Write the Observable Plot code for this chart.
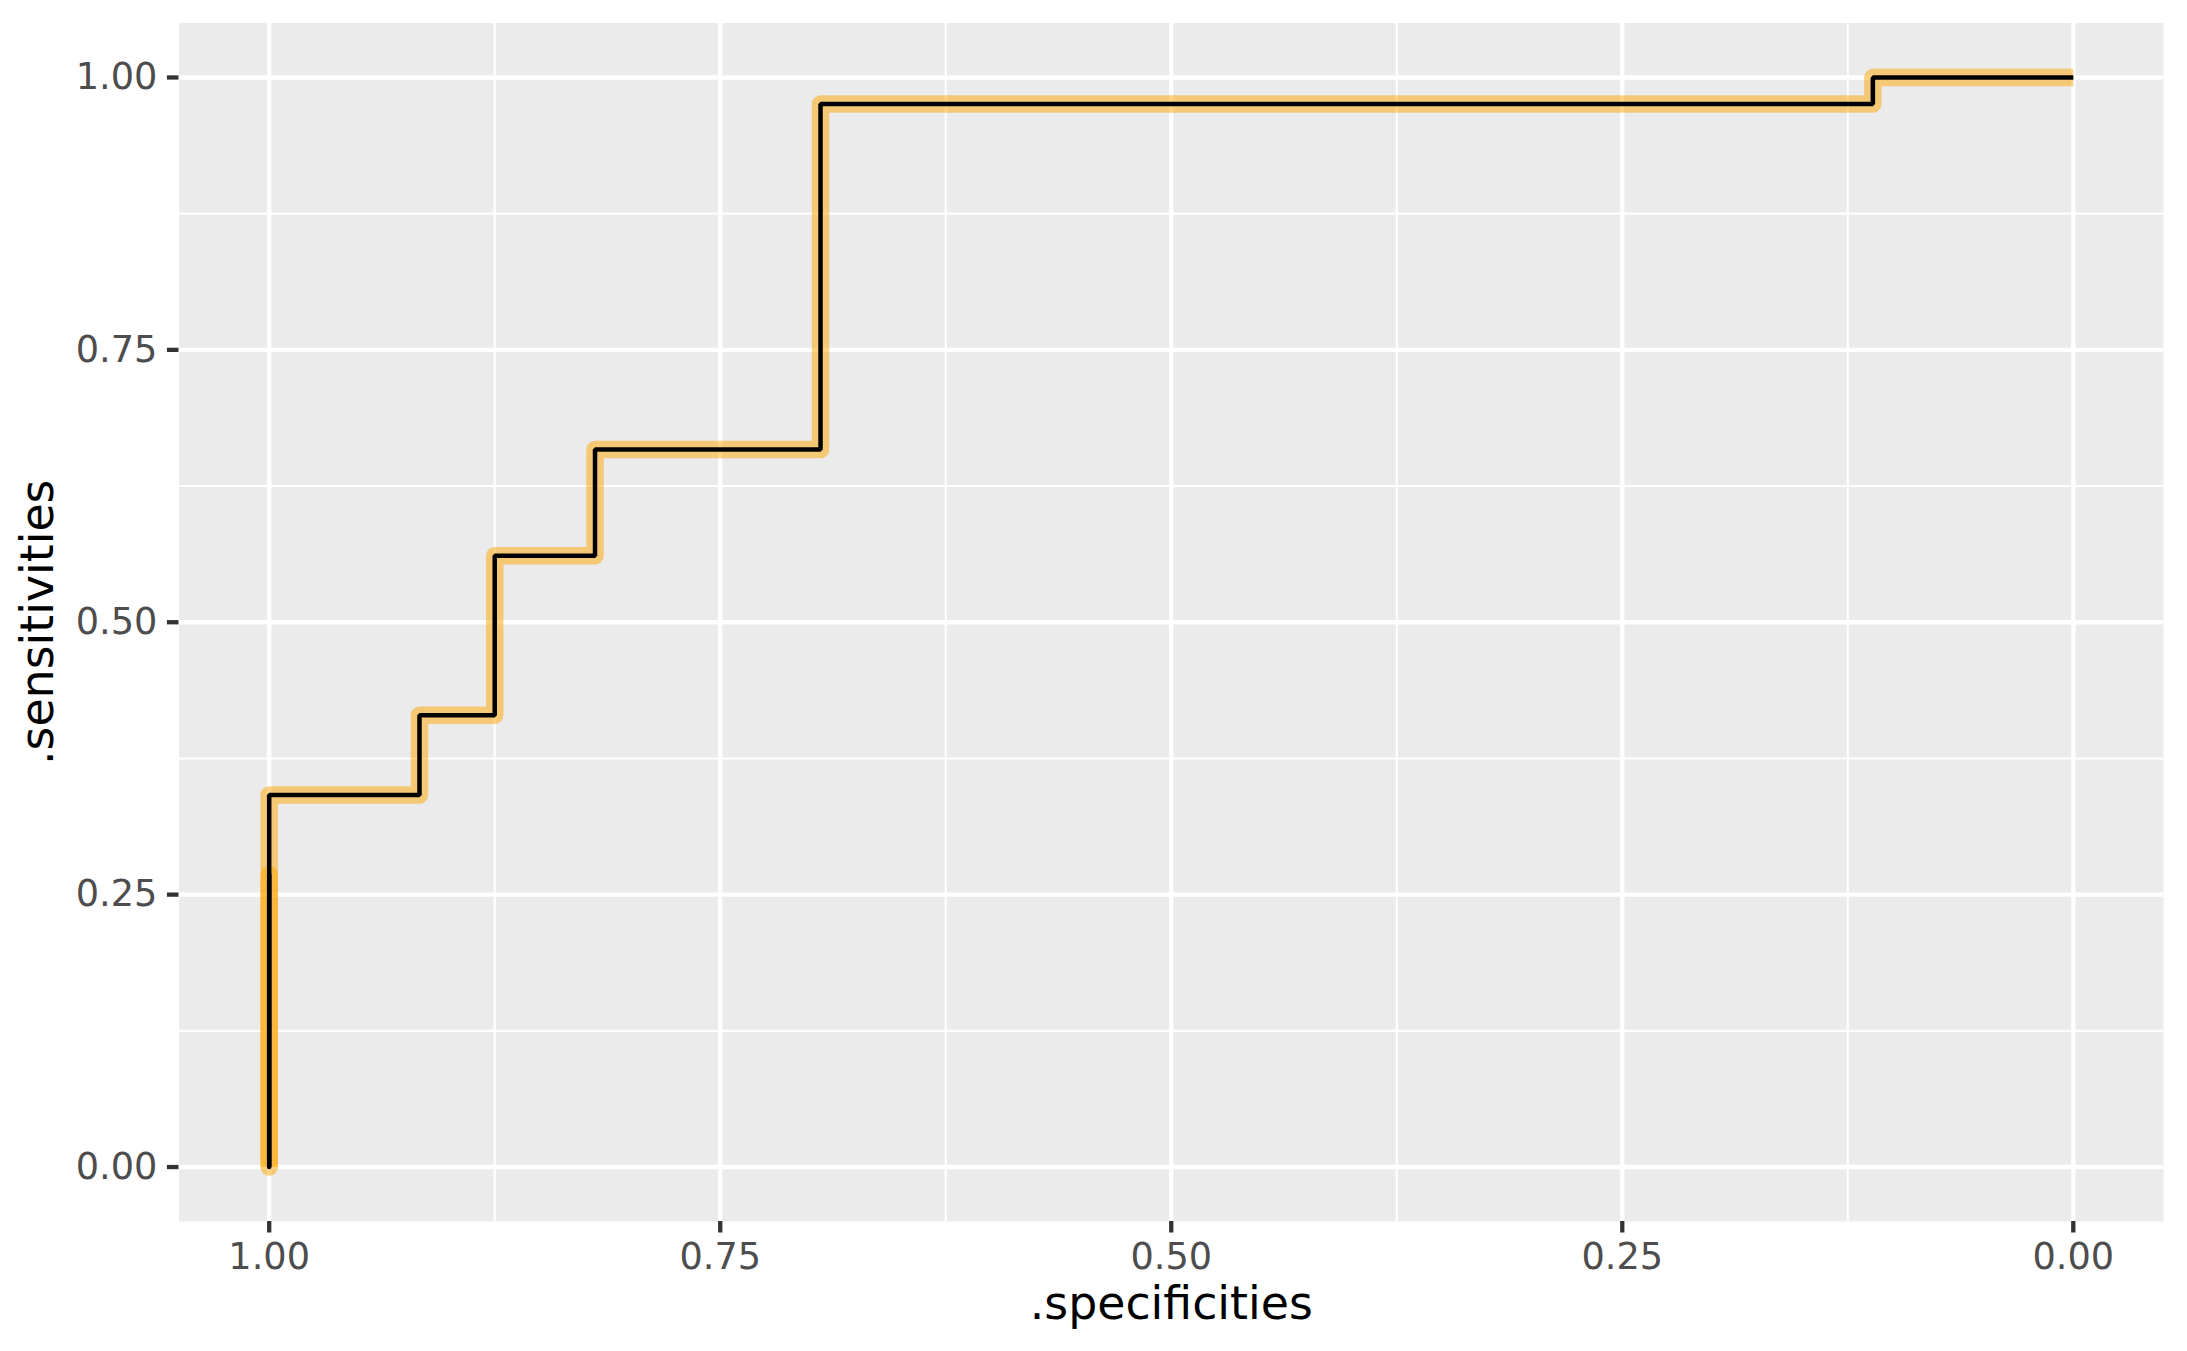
<!DOCTYPE html>
<html>
<head>
<meta charset="utf-8">
<script src="https://cdn.jsdelivr.net/npm/d3@7"></script>
<script src="https://cdn.jsdelivr.net/npm/@observablehq/plot@0.6"></script>
<style>
  html, body { margin: 0; padding: 0; background: white; }
  #chart svg { display: block; }
</style>
</head>
<body>
<div id="chart"></div>
<script>
// ROC curve vertices (specificity, sensitivity)
const specificities = [1, 1, 1, 0.9167, 0.9167, 0.875, 0.875, 0.8194, 0.8194, 0.6944, 0.6944, 0.1111, 0.1111, 0];
const sensitivities = [0, 0.2683, 0.3415, 0.3415, 0.4146, 0.4146, 0.5610, 0.5610, 0.6585, 0.6585, 0.9756, 0.9756, 1, 1];
// first (overdrawn) segment of the curve
const startSpecificities = [1, 1];
const startSensitivities = [0, 0.2683];
const majorTicks = [0, 0.25, 0.5, 0.75, 1];
const minorTicks = [0.125, 0.375, 0.625, 0.875];
const xTitle = ".specificities";
const yTitle = ".sensitivities";

const roc = specificities.map((s, i) => ({spec: s, sens: sensitivities[i]}));
const rocStart = startSpecificities.map((s, i) => ({spec: s, sens: startSensitivities[i]}));

const chart = Plot.plot({
  width: 2187,
  height: 1351,
  marginLeft: 178.5,
  marginRight: 24,
  marginTop: 22.5,
  marginBottom: 130,
  x: {domain: [1.05, -0.05]},
  y: {domain: [-0.05, 1.05]},
  style: {fontFamily: "DejaVu Sans", background: "white", color: "black"},
  marks: [
    Plot.frame({fill: "#EBEBEB", stroke: null}),
    Plot.ruleX(minorTicks, {stroke: "white", strokeWidth: 2.1}),
    Plot.ruleY(minorTicks, {stroke: "white", strokeWidth: 2.1}),
    Plot.ruleX(majorTicks, {stroke: "white", strokeWidth: 4.3}),
    Plot.ruleY(majorTicks, {stroke: "white", strokeWidth: 4.3}),
    Plot.line(roc, {x: "spec", y: "sens", stroke: "#FFA500", strokeOpacity: 0.5, strokeWidth: 17.5, strokeLinejoin: "round", strokeLinecap: "butt"}),
    Plot.line(rocStart, {x: "spec", y: "sens", stroke: "#FFA500", strokeOpacity: 0.5, strokeWidth: 17.5, strokeLinejoin: "round", strokeLinecap: "round"}),
    Plot.line(roc, {x: "spec", y: "sens", stroke: "black", strokeWidth: 4.5, strokeLinejoin: "miter", strokeLinecap: "butt"}),
    Plot.line(rocStart, {x: "spec", y: "sens", stroke: "black", strokeWidth: 4.5, strokeLinecap: "round"}),
    Plot.axisX(majorTicks, {
      tickSize: 11.5, tickPadding: 9.5, stroke: "#333333", strokeWidth: 4.3,
      fill: "#4D4D4D", fontSize: 36.7, tickFormat: d3.format(".2f"), label: null
    }),
    Plot.axisY(majorTicks, {
      tickSize: 11.6, tickPadding: 10, stroke: "#333333", strokeWidth: 4.3,
      fill: "#4D4D4D", fontSize: 36.7, tickFormat: d3.format(".2f"), label: null
    }),
    Plot.text([xTitle], {frameAnchor: "bottom", text: d => d, fontSize: 45.8, fill: "black", textAnchor: "middle", lineAnchor: "middle", dy: 82.5}),
    Plot.text([yTitle], {frameAnchor: "left", text: d => d, fontSize: 45.8, fill: "black", textAnchor: "middle", lineAnchor: "middle", rotate: -90, dx: -140.5})
  ]
});
document.getElementById("chart").appendChild(chart);
</script>
</body>
</html>
